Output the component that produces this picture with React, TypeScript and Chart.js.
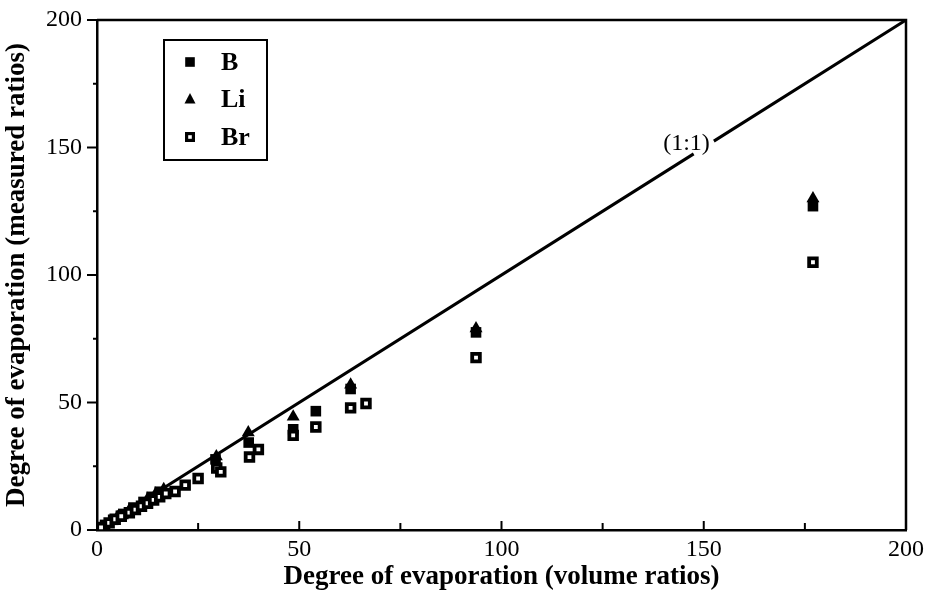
import React, { useEffect, useRef } from 'react';
import { Chart, registerables } from 'chart.js';

Chart.register(...registerables);

const FONT = "'Liberation Serif', 'Times New Roman', serif";

// ---- data ----
const xTickValues = [0, 50, 100, 150, 200];
const yTickValues = [0, 50, 100, 150, 200];
const minorTickValues = [25, 75, 125, 175];

const bX = [2, 4, 6.5, 9, 11.5, 13.5, 15.5, 29.3, 37.5, 48.5, 54.1, 62.7, 93.7, 177];
const bY = [2, 4, 6.3, 8.8, 11, 13, 15, 27.7, 34.3, 39.5, 46.6, 55.3, 77.5, 127];

const liX = [5, 8, 12.5, 14.5, 16.5, 29.5, 37.4, 48.5, 62.7, 93.7, 177];
const liY = [5, 7.8, 12.2, 14.2, 16, 28.8, 38.2, 44.4, 57, 79, 130];

const brX = [1, 3, 4.5, 6, 8, 9.5, 11, 12.5, 14, 15.5, 17, 19.3, 21.8, 25, 29.6, 30.6, 37.7, 39.9, 48.5, 54.1, 62.7, 66.5, 93.7, 177];
const brY = [1, 2.8, 4.2, 5.4, 6.8, 8, 9.3, 10.5, 11.8, 13, 14.3, 15.1, 17.6, 20.2, 24.3, 22.8, 28.6, 31.6, 37.1, 40.4, 47.9, 49.6, 67.6, 105];

const lineX = [0, 147.5, 150, 152.5, 200];
const lineY: (number | null)[] = [0, 147.5, null, 152.5, 200];

const seriesNames = ['B', 'Li', 'Br'];
const lineLabel = '(1:1)';
const xTitle = 'Degree of evaporation (volume ratios)';
const yTitle = 'Degree of evaporation (measured ratios)';

const toPts = (xs: number[], ys: (number | null)[]) => xs.map((x, i) => ({ x, y: ys[i] }));

function drawMarker(ctx: CanvasRenderingContext2D, kind: string, x: number, y: number) {
  ctx.save();
  ctx.fillStyle = '#000';
  if (kind === 'B') {
    ctx.fillRect(x - 4.8, y - 4.8, 9.6, 9.6);
  } else if (kind === 'Li') {
    ctx.beginPath();
    ctx.moveTo(x, y - 6.5);
    ctx.lineTo(x + 5.5, y + 4);
    ctx.lineTo(x - 5.5, y + 4);
    ctx.closePath();
    ctx.fill();
  } else {
    ctx.fillRect(x - 5, y - 5, 10, 10);
    ctx.fillStyle = '#fff';
    ctx.fillRect(x - 1.8, y - 1.8, 3.6, 3.6);
  }
  ctx.restore();
}

const framePlugin = {
  id: 'frame',
  afterDraw(chart: any) {
    const { ctx, chartArea } = chart;
    const xs = chart.scales.x;
    const ys = chart.scales.y;
    const { left, right, top, bottom } = chartArea;
    ctx.save();
    ctx.strokeStyle = '#000';
    ctx.lineWidth = 2.5;
    ctx.lineCap = 'butt';
    // frame top & right
    ctx.beginPath();
    ctx.moveTo(left, top);
    ctx.lineTo(right, top);
    ctx.lineTo(right, bottom);
    ctx.stroke();
    ctx.lineWidth = 2;
    // x ticks (inward)
    [...xTickValues, ...minorTickValues].forEach((v) => {
      const major = xTickValues.includes(v);
      const px = xs.getPixelForValue(v);
      ctx.beginPath();
      ctx.moveTo(px, bottom);
      ctx.lineTo(px, bottom - (major ? 9 : 7));
      ctx.stroke();
    });
    // y ticks (outward)
    [...yTickValues, ...minorTickValues].forEach((v) => {
      const major = yTickValues.includes(v);
      const py = ys.getPixelForValue(v);
      ctx.beginPath();
      ctx.moveTo(left, py);
      ctx.lineTo(left - (major ? 10 : 4), py);
      ctx.stroke();
    });
    // (1:1) label
    ctx.fillStyle = '#000';
    ctx.font = `24px ${FONT}`;
    ctx.textAlign = 'right';
    ctx.textBaseline = 'middle';
    ctx.fillText(lineLabel, xs.getPixelForValue(151.5), ys.getPixelForValue(151.5));
    // legend box
    const bx = 164, by = 40, bw = 103, bh = 120;
    ctx.lineWidth = 2;
    ctx.fillStyle = '#fff';
    ctx.fillRect(bx, by, bw, bh);
    ctx.strokeRect(bx, by, bw, bh);
    ctx.font = `bold 26px ${FONT}`;
    ctx.textAlign = 'left';
    ctx.textBaseline = 'middle';
    seriesNames.forEach((name, i) => {
      const cy = by + 22 + i * 37.5;
      drawMarker(ctx, name, bx + 26, cy);
      ctx.fillStyle = '#000';
      ctx.fillText(name, bx + 57, cy + 1);
    });
    ctx.restore();
  },
};

const zeroPad = (s: any) => {
  s.paddingTop = 0;
  s.paddingBottom = 0;
  s.paddingLeft = 0;
  s.paddingRight = 0;
};

export default function App() {
  const ref = useRef<HTMLCanvasElement>(null);
  useEffect(() => {
    if (!ref.current) return;
    const chart = new Chart(ref.current, {
      type: 'scatter',
      data: {
        datasets: [
          {
            label: '1:1',
            type: 'line',
            data: toPts(lineX, lineY),
            borderColor: '#000',
            borderWidth: 3,
            pointRadius: 0,
            spanGaps: false,
            order: 5,
          } as any,
          {
            label: seriesNames[0],
            data: toPts(bX, bY),
            pointStyle: 'rect',
            pointRadius: 7.5,
            backgroundColor: '#000',
            borderColor: '#000',
            borderWidth: 0,
            order: 1,
          },
          {
            label: seriesNames[1],
            data: toPts(liX, liY),
            pointStyle: 'triangle',
            pointRadius: 7.5,
            backgroundColor: '#000',
            borderColor: '#000',
            borderWidth: 0,
            order: 2,
          },
          {
            label: seriesNames[2],
            data: toPts(brX, brY),
            pointStyle: 'rect',
            pointRadius: 5.4,
            backgroundColor: '#fff',
            borderColor: '#000',
            borderWidth: 3.8,
            order: 0,
          },
        ],
      },
      options: {
        responsive: false,
        animation: false,
        layout: { padding: { top: 20, right: 20, left: 0, bottom: 0 } },
        plugins: { legend: { display: false }, tooltip: { enabled: false } },
        scales: {
          x: {
            type: 'linear',
            min: 0,
            max: 200,
            afterFit: (s: any) => { s.height = 66; zeroPad(s); },
            afterBuildTicks: (s: any) => { s.ticks = xTickValues.map((v) => ({ value: v })); },
            grid: { display: false, drawTicks: false },
            border: { display: true, color: '#000', width: 2.5 },
            ticks: { color: '#000', font: { family: FONT, size: 24 }, padding: 5 },
            title: {
              display: true,
              text: xTitle,
              color: '#000',
              font: { family: FONT, size: 27, weight: 'bold', lineHeight: 1.4 },
              padding: { top: 0, bottom: 0 },
            },
          },
          y: {
            type: 'linear',
            min: 0,
            max: 200,
            afterFit: (s: any) => { s.width = 97; zeroPad(s); },
            afterBuildTicks: (s: any) => { s.ticks = yTickValues.map((v) => ({ value: v })); },
            grid: { display: false, drawTicks: false },
            border: { display: true, color: '#000', width: 2.5 },
            ticks: { color: '#000', font: { family: FONT, size: 24 }, padding: 15 },
            title: {
              display: true,
              text: yTitle,
              color: '#000',
              font: { family: FONT, size: 27, weight: 'bold', lineHeight: 1.25 },
              padding: { top: 0, bottom: 0 },
            },
          },
        },
      },
      plugins: [framePlugin],
    });
    return () => chart.destroy();
  }, []);
  return (
    <div style={{ position: 'fixed', left: 0, top: 0, width: 926, height: 596, background: '#fff' }}>
      <canvas ref={ref} width={926} height={596} style={{ display: 'block' }} />
    </div>
  );
}
